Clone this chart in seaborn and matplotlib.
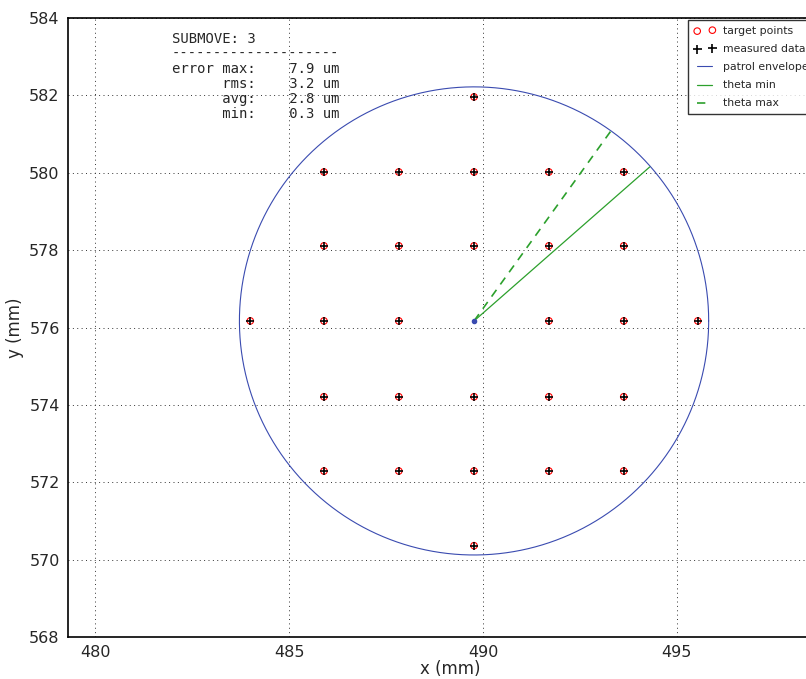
import numpy as np
import pandas as pd
import matplotlib
matplotlib.use("Agg")
import matplotlib.pyplot as plt
import seaborn as sns

# --- DATA ---
# target points (x, y)
target_x = [489.77,
            485.9, 487.83, 489.77, 491.7, 493.63,
            485.9, 487.83, 489.77, 491.7, 493.63,
            484.0, 485.9, 487.83, 491.7, 493.63, 495.54,
            485.9, 487.83, 489.77, 491.7, 493.63,
            485.9, 487.83, 489.77, 491.7, 493.63,
            489.77]
target_y = [581.96,
            580.02, 580.02, 580.02, 580.02, 580.02,
            578.11, 578.11, 578.11, 578.11, 578.11,
            576.17, 576.17, 576.17, 576.17, 576.17, 576.17,
            574.21, 574.21, 574.21, 574.21, 574.21,
            572.29, 572.29, 572.29, 572.29, 572.29,
            570.36]
measured_x = target_x
measured_y = target_y

center_x, center_y = 489.77, 576.17
patrol_radius = 6.05
theta_min_end = (494.30, 580.15)
theta_max_end = (493.32, 581.11)

stats_text = ("SUBMOVE: 3\n"
              "--------------------\n"
              "error max:    7.9 um\n"
              "      rms:    3.2 um\n"
              "      avg:    2.8 um\n"
              "      min:    0.3 um")

# --- PLOT ---
sns.set_theme(style="white")
plt.rcParams['font.family'] = ['DejaVu Sans']

fig = plt.figure(figsize=(8.06, 6.79), dpi=100)
ax = fig.add_axes([68 / 806, 42 / 679, 764 / 806, 619 / 679])

pts = pd.DataFrame({'x': target_x, 'y': target_y})
meas = pd.DataFrame({'x': measured_x, 'y': measured_y})

sns.scatterplot(data=pts, x='x', y='y', ax=ax, marker='o', s=22,
                facecolor='none', edgecolor='red', linewidth=0.8,
                label='target points', zorder=3)
sns.scatterplot(data=meas, x='x', y='y', ax=ax, marker='+', s=40,
                color='black', linewidth=1.2, label='measured data', zorder=4)

t = np.linspace(0, 2 * np.pi, 400)
ax.plot(center_x + patrol_radius * np.cos(t), center_y + patrol_radius * np.sin(t),
        color='#3a4bb0', lw=0.8, label='patrol envelope')
ax.plot([center_x, theta_min_end[0]], [center_y, theta_min_end[1]],
        color='#2ca02c', lw=0.9, label='theta min')
ax.plot([center_x, theta_max_end[0]], [center_y, theta_max_end[1]],
        color='#2ca02c', lw=1.2, ls=(0, (5, 4)), label='theta max')
ax.plot([center_x], [center_y], 'o', color='#3a4bb0', ms=3)

ax.set_xlim(479.3, 499.0)
ax.set_ylim(568, 584)
ax.set_xticks([480, 485, 490, 495])
ax.set_yticks(np.arange(568, 585, 2))
ax.grid(True, color='#333333', linestyle=(0, (1, 3.5)), linewidth=0.7)
ax.tick_params(direction='in', labelsize=11.5, length=0, pad=6)
for s in ax.spines.values():
    s.set_color('black')
    s.set_linewidth(1.2)

ax.set_xlabel('x (mm)', fontsize=12, labelpad=0)
ax.set_ylabel('y (mm)', fontsize=12, labelpad=4)

ax.text(172 / 806, 1 - 32 / 679, stats_text, transform=fig.transFigure,
        family='DejaVu Sans Mono', fontsize=10, va='top', ha='left',
        linespacing=1.1)

leg = ax.legend(loc='upper left', bbox_to_anchor=(688 / 806, 1 - 20 / 679),
                bbox_transform=fig.transFigure, fontsize=7.8, numpoints=2,
                scatterpoints=2, frameon=True, fancybox=False,
                borderaxespad=0, handlelength=2.0, handletextpad=0.7,
                labelspacing=0.75, borderpad=0.55)
leg.get_frame().set_edgecolor('black')
leg.get_frame().set_linewidth(1.0)

fig.savefig('out.png', dpi=100)
